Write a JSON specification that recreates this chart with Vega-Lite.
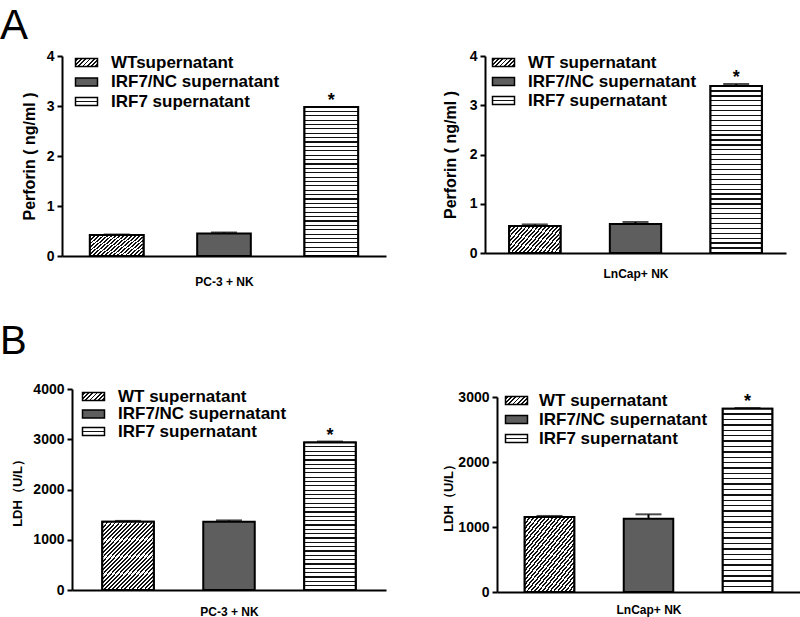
{
"$schema": "https://vega.github.io/schema/vega-lite/v6.json",
"padding": {"left": 0, "top": 5, "right": 0, "bottom": 0},
"background": "white",
"params": [
 {"name": "legWT", "value": {"gradient": "linear", "x1": 0, "y1": 0, "x2": 1.2, "y2": 0.44, "stops": [
    {"offset": 0, "color": "#fff"},
    {"offset": 0.04, "color": "#fff"}, {"offset": 0.04, "color": "#111"}, {"offset": 0.105, "color": "#111"}, {"offset": 0.105, "color": "#fff"},
    {"offset": 0.183, "color": "#fff"}, {"offset": 0.183, "color": "#111"}, {"offset": 0.248, "color": "#111"}, {"offset": 0.248, "color": "#fff"},
    {"offset": 0.326, "color": "#fff"}, {"offset": 0.326, "color": "#111"}, {"offset": 0.391, "color": "#111"}, {"offset": 0.391, "color": "#fff"},
    {"offset": 0.469, "color": "#fff"}, {"offset": 0.469, "color": "#111"}, {"offset": 0.534, "color": "#111"}, {"offset": 0.534, "color": "#fff"},
    {"offset": 0.611, "color": "#fff"}, {"offset": 0.611, "color": "#111"}, {"offset": 0.676, "color": "#111"}, {"offset": 0.676, "color": "#fff"},
    {"offset": 0.754, "color": "#fff"}, {"offset": 0.754, "color": "#111"}, {"offset": 0.819, "color": "#111"}, {"offset": 0.819, "color": "#fff"},
    {"offset": 0.897, "color": "#fff"}, {"offset": 0.897, "color": "#111"}, {"offset": 0.962, "color": "#111"}, {"offset": 0.962, "color": "#fff"},
    {"offset": 1, "color": "#fff"}]}},
 {"name": "legIRF", "value": {"gradient": "linear", "x1": 0, "y1": 0, "x2": 0, "y2": 1, "stops": [
    {"offset": 0, "color": "#fff"}, {"offset": 0.42, "color": "#fff"}, {"offset": 0.42, "color": "#111"}, {"offset": 0.58, "color": "#111"}, {"offset": 0.58, "color": "#fff"}, {"offset": 1, "color": "#fff"}]}},
 {"name": "wtA", "value": {"gradient": "linear", "x1": 0, "y1": 0, "x2": 1.2, "y2": 0.55, "stops": [
    {"offset": 0, "color": "#fff"},
    {"offset": 0.014, "color": "#fff"}, {"offset": 0.014, "color": "#111"}, {"offset": 0.038, "color": "#111"}, {"offset": 0.038, "color": "#fff"},
    {"offset": 0.067, "color": "#fff"}, {"offset": 0.067, "color": "#111"}, {"offset": 0.091, "color": "#111"}, {"offset": 0.091, "color": "#fff"},
    {"offset": 0.119, "color": "#fff"}, {"offset": 0.119, "color": "#111"}, {"offset": 0.143, "color": "#111"}, {"offset": 0.143, "color": "#fff"},
    {"offset": 0.172, "color": "#fff"}, {"offset": 0.172, "color": "#111"}, {"offset": 0.196, "color": "#111"}, {"offset": 0.196, "color": "#fff"},
    {"offset": 0.225, "color": "#fff"}, {"offset": 0.225, "color": "#111"}, {"offset": 0.249, "color": "#111"}, {"offset": 0.249, "color": "#fff"},
    {"offset": 0.277, "color": "#fff"}, {"offset": 0.277, "color": "#111"}, {"offset": 0.301, "color": "#111"}, {"offset": 0.301, "color": "#fff"},
    {"offset": 0.33, "color": "#fff"}, {"offset": 0.33, "color": "#111"}, {"offset": 0.354, "color": "#111"}, {"offset": 0.354, "color": "#fff"},
    {"offset": 0.382, "color": "#fff"}, {"offset": 0.382, "color": "#111"}, {"offset": 0.406, "color": "#111"}, {"offset": 0.406, "color": "#fff"},
    {"offset": 0.435, "color": "#fff"}, {"offset": 0.435, "color": "#111"}, {"offset": 0.459, "color": "#111"}, {"offset": 0.459, "color": "#fff"},
    {"offset": 0.488, "color": "#fff"}, {"offset": 0.488, "color": "#111"}, {"offset": 0.512, "color": "#111"}, {"offset": 0.512, "color": "#fff"},
    {"offset": 0.54, "color": "#fff"}, {"offset": 0.54, "color": "#111"}, {"offset": 0.564, "color": "#111"}, {"offset": 0.564, "color": "#fff"},
    {"offset": 0.593, "color": "#fff"}, {"offset": 0.593, "color": "#111"}, {"offset": 0.617, "color": "#111"}, {"offset": 0.617, "color": "#fff"},
    {"offset": 0.646, "color": "#fff"}, {"offset": 0.646, "color": "#111"}, {"offset": 0.67, "color": "#111"}, {"offset": 0.67, "color": "#fff"},
    {"offset": 0.698, "color": "#fff"}, {"offset": 0.698, "color": "#111"}, {"offset": 0.722, "color": "#111"}, {"offset": 0.722, "color": "#fff"},
    {"offset": 0.751, "color": "#fff"}, {"offset": 0.751, "color": "#111"}, {"offset": 0.775, "color": "#111"}, {"offset": 0.775, "color": "#fff"},
    {"offset": 0.804, "color": "#fff"}, {"offset": 0.804, "color": "#111"}, {"offset": 0.828, "color": "#111"}, {"offset": 0.828, "color": "#fff"},
    {"offset": 0.856, "color": "#fff"}, {"offset": 0.856, "color": "#111"}, {"offset": 0.88, "color": "#111"}, {"offset": 0.88, "color": "#fff"},
    {"offset": 0.909, "color": "#fff"}, {"offset": 0.909, "color": "#111"}, {"offset": 0.933, "color": "#111"}, {"offset": 0.933, "color": "#fff"},
    {"offset": 0.961, "color": "#fff"}, {"offset": 0.961, "color": "#111"}, {"offset": 0.985, "color": "#111"}, {"offset": 0.985, "color": "#fff"},
    {"offset": 1, "color": "#fff"}]}},
 {"name": "wtB", "value": {"gradient": "linear", "x1": 0, "y1": 0, "x2": 0.88, "y2": 1.1, "stops": [
    {"offset": 0, "color": "#fff"},
    {"offset": 0.009, "color": "#fff"}, {"offset": 0.009, "color": "#111"}, {"offset": 0.025, "color": "#111"}, {"offset": 0.025, "color": "#fff"},
    {"offset": 0.043, "color": "#fff"}, {"offset": 0.043, "color": "#111"}, {"offset": 0.059, "color": "#111"}, {"offset": 0.059, "color": "#fff"},
    {"offset": 0.078, "color": "#fff"}, {"offset": 0.078, "color": "#111"}, {"offset": 0.094, "color": "#111"}, {"offset": 0.094, "color": "#fff"},
    {"offset": 0.112, "color": "#fff"}, {"offset": 0.112, "color": "#111"}, {"offset": 0.128, "color": "#111"}, {"offset": 0.128, "color": "#fff"},
    {"offset": 0.147, "color": "#fff"}, {"offset": 0.147, "color": "#111"}, {"offset": 0.163, "color": "#111"}, {"offset": 0.163, "color": "#fff"},
    {"offset": 0.181, "color": "#fff"}, {"offset": 0.181, "color": "#111"}, {"offset": 0.197, "color": "#111"}, {"offset": 0.197, "color": "#fff"},
    {"offset": 0.216, "color": "#fff"}, {"offset": 0.216, "color": "#111"}, {"offset": 0.232, "color": "#111"}, {"offset": 0.232, "color": "#fff"},
    {"offset": 0.25, "color": "#fff"}, {"offset": 0.25, "color": "#111"}, {"offset": 0.266, "color": "#111"}, {"offset": 0.266, "color": "#fff"},
    {"offset": 0.285, "color": "#fff"}, {"offset": 0.285, "color": "#111"}, {"offset": 0.301, "color": "#111"}, {"offset": 0.301, "color": "#fff"},
    {"offset": 0.319, "color": "#fff"}, {"offset": 0.319, "color": "#111"}, {"offset": 0.335, "color": "#111"}, {"offset": 0.335, "color": "#fff"},
    {"offset": 0.354, "color": "#fff"}, {"offset": 0.354, "color": "#111"}, {"offset": 0.37, "color": "#111"}, {"offset": 0.37, "color": "#fff"},
    {"offset": 0.388, "color": "#fff"}, {"offset": 0.388, "color": "#111"}, {"offset": 0.404, "color": "#111"}, {"offset": 0.404, "color": "#fff"},
    {"offset": 0.423, "color": "#fff"}, {"offset": 0.423, "color": "#111"}, {"offset": 0.439, "color": "#111"}, {"offset": 0.439, "color": "#fff"},
    {"offset": 0.457, "color": "#fff"}, {"offset": 0.457, "color": "#111"}, {"offset": 0.473, "color": "#111"}, {"offset": 0.473, "color": "#fff"},
    {"offset": 0.492, "color": "#fff"}, {"offset": 0.492, "color": "#111"}, {"offset": 0.508, "color": "#111"}, {"offset": 0.508, "color": "#fff"},
    {"offset": 0.526, "color": "#fff"}, {"offset": 0.526, "color": "#111"}, {"offset": 0.542, "color": "#111"}, {"offset": 0.542, "color": "#fff"},
    {"offset": 0.561, "color": "#fff"}, {"offset": 0.561, "color": "#111"}, {"offset": 0.577, "color": "#111"}, {"offset": 0.577, "color": "#fff"},
    {"offset": 0.595, "color": "#fff"}, {"offset": 0.595, "color": "#111"}, {"offset": 0.611, "color": "#111"}, {"offset": 0.611, "color": "#fff"},
    {"offset": 0.63, "color": "#fff"}, {"offset": 0.63, "color": "#111"}, {"offset": 0.646, "color": "#111"}, {"offset": 0.646, "color": "#fff"},
    {"offset": 0.664, "color": "#fff"}, {"offset": 0.664, "color": "#111"}, {"offset": 0.68, "color": "#111"}, {"offset": 0.68, "color": "#fff"},
    {"offset": 0.699, "color": "#fff"}, {"offset": 0.699, "color": "#111"}, {"offset": 0.715, "color": "#111"}, {"offset": 0.715, "color": "#fff"},
    {"offset": 0.733, "color": "#fff"}, {"offset": 0.733, "color": "#111"}, {"offset": 0.749, "color": "#111"}, {"offset": 0.749, "color": "#fff"},
    {"offset": 0.768, "color": "#fff"}, {"offset": 0.768, "color": "#111"}, {"offset": 0.784, "color": "#111"}, {"offset": 0.784, "color": "#fff"},
    {"offset": 0.802, "color": "#fff"}, {"offset": 0.802, "color": "#111"}, {"offset": 0.818, "color": "#111"}, {"offset": 0.818, "color": "#fff"},
    {"offset": 0.837, "color": "#fff"}, {"offset": 0.837, "color": "#111"}, {"offset": 0.853, "color": "#111"}, {"offset": 0.853, "color": "#fff"},
    {"offset": 0.871, "color": "#fff"}, {"offset": 0.871, "color": "#111"}, {"offset": 0.887, "color": "#111"}, {"offset": 0.887, "color": "#fff"},
    {"offset": 0.906, "color": "#fff"}, {"offset": 0.906, "color": "#111"}, {"offset": 0.922, "color": "#111"}, {"offset": 0.922, "color": "#fff"},
    {"offset": 0.94, "color": "#fff"}, {"offset": 0.94, "color": "#111"}, {"offset": 0.956, "color": "#111"}, {"offset": 0.956, "color": "#fff"},
    {"offset": 0.975, "color": "#fff"}, {"offset": 0.975, "color": "#111"}, {"offset": 0.991, "color": "#111"}, {"offset": 0.991, "color": "#fff"},
    {"offset": 1, "color": "#fff"}]}},
 {"name": "irf7", "value": {"gradient": "linear", "x1": 0, "y1": 0, "x2": 0, "y2": 1, "stops": [
    {"offset": 0, "color": "#fff"},
    {"offset": 0.025, "color": "#fff"}, {"offset": 0.025, "color": "#111"}, {"offset": 0.033, "color": "#111"}, {"offset": 0.033, "color": "#fff"},
    {"offset": 0.055, "color": "#fff"}, {"offset": 0.055, "color": "#111"}, {"offset": 0.063, "color": "#111"}, {"offset": 0.063, "color": "#fff"},
    {"offset": 0.084, "color": "#fff"}, {"offset": 0.084, "color": "#111"}, {"offset": 0.092, "color": "#111"}, {"offset": 0.092, "color": "#fff"},
    {"offset": 0.114, "color": "#fff"}, {"offset": 0.114, "color": "#111"}, {"offset": 0.122, "color": "#111"}, {"offset": 0.122, "color": "#fff"},
    {"offset": 0.143, "color": "#fff"}, {"offset": 0.143, "color": "#111"}, {"offset": 0.151, "color": "#111"}, {"offset": 0.151, "color": "#fff"},
    {"offset": 0.172, "color": "#fff"}, {"offset": 0.172, "color": "#111"}, {"offset": 0.18, "color": "#111"}, {"offset": 0.18, "color": "#fff"},
    {"offset": 0.202, "color": "#fff"}, {"offset": 0.202, "color": "#111"}, {"offset": 0.21, "color": "#111"}, {"offset": 0.21, "color": "#fff"},
    {"offset": 0.231, "color": "#fff"}, {"offset": 0.231, "color": "#111"}, {"offset": 0.239, "color": "#111"}, {"offset": 0.239, "color": "#fff"},
    {"offset": 0.261, "color": "#fff"}, {"offset": 0.261, "color": "#111"}, {"offset": 0.269, "color": "#111"}, {"offset": 0.269, "color": "#fff"},
    {"offset": 0.29, "color": "#fff"}, {"offset": 0.29, "color": "#111"}, {"offset": 0.298, "color": "#111"}, {"offset": 0.298, "color": "#fff"},
    {"offset": 0.319, "color": "#fff"}, {"offset": 0.319, "color": "#111"}, {"offset": 0.327, "color": "#111"}, {"offset": 0.327, "color": "#fff"},
    {"offset": 0.349, "color": "#fff"}, {"offset": 0.349, "color": "#111"}, {"offset": 0.357, "color": "#111"}, {"offset": 0.357, "color": "#fff"},
    {"offset": 0.378, "color": "#fff"}, {"offset": 0.378, "color": "#111"}, {"offset": 0.386, "color": "#111"}, {"offset": 0.386, "color": "#fff"},
    {"offset": 0.408, "color": "#fff"}, {"offset": 0.408, "color": "#111"}, {"offset": 0.416, "color": "#111"}, {"offset": 0.416, "color": "#fff"},
    {"offset": 0.437, "color": "#fff"}, {"offset": 0.437, "color": "#111"}, {"offset": 0.445, "color": "#111"}, {"offset": 0.445, "color": "#fff"},
    {"offset": 0.467, "color": "#fff"}, {"offset": 0.467, "color": "#111"}, {"offset": 0.475, "color": "#111"}, {"offset": 0.475, "color": "#fff"},
    {"offset": 0.496, "color": "#fff"}, {"offset": 0.496, "color": "#111"}, {"offset": 0.504, "color": "#111"}, {"offset": 0.504, "color": "#fff"},
    {"offset": 0.525, "color": "#fff"}, {"offset": 0.525, "color": "#111"}, {"offset": 0.533, "color": "#111"}, {"offset": 0.533, "color": "#fff"},
    {"offset": 0.555, "color": "#fff"}, {"offset": 0.555, "color": "#111"}, {"offset": 0.563, "color": "#111"}, {"offset": 0.563, "color": "#fff"},
    {"offset": 0.584, "color": "#fff"}, {"offset": 0.584, "color": "#111"}, {"offset": 0.592, "color": "#111"}, {"offset": 0.592, "color": "#fff"},
    {"offset": 0.614, "color": "#fff"}, {"offset": 0.614, "color": "#111"}, {"offset": 0.622, "color": "#111"}, {"offset": 0.622, "color": "#fff"},
    {"offset": 0.643, "color": "#fff"}, {"offset": 0.643, "color": "#111"}, {"offset": 0.651, "color": "#111"}, {"offset": 0.651, "color": "#fff"},
    {"offset": 0.672, "color": "#fff"}, {"offset": 0.672, "color": "#111"}, {"offset": 0.68, "color": "#111"}, {"offset": 0.68, "color": "#fff"},
    {"offset": 0.702, "color": "#fff"}, {"offset": 0.702, "color": "#111"}, {"offset": 0.71, "color": "#111"}, {"offset": 0.71, "color": "#fff"},
    {"offset": 0.731, "color": "#fff"}, {"offset": 0.731, "color": "#111"}, {"offset": 0.739, "color": "#111"}, {"offset": 0.739, "color": "#fff"},
    {"offset": 0.761, "color": "#fff"}, {"offset": 0.761, "color": "#111"}, {"offset": 0.769, "color": "#111"}, {"offset": 0.769, "color": "#fff"},
    {"offset": 0.79, "color": "#fff"}, {"offset": 0.79, "color": "#111"}, {"offset": 0.798, "color": "#111"}, {"offset": 0.798, "color": "#fff"},
    {"offset": 0.82, "color": "#fff"}, {"offset": 0.82, "color": "#111"}, {"offset": 0.828, "color": "#111"}, {"offset": 0.828, "color": "#fff"},
    {"offset": 0.849, "color": "#fff"}, {"offset": 0.849, "color": "#111"}, {"offset": 0.857, "color": "#111"}, {"offset": 0.857, "color": "#fff"},
    {"offset": 0.878, "color": "#fff"}, {"offset": 0.878, "color": "#111"}, {"offset": 0.886, "color": "#111"}, {"offset": 0.886, "color": "#fff"},
    {"offset": 0.908, "color": "#fff"}, {"offset": 0.908, "color": "#111"}, {"offset": 0.916, "color": "#111"}, {"offset": 0.916, "color": "#fff"},
    {"offset": 0.937, "color": "#fff"}, {"offset": 0.937, "color": "#111"}, {"offset": 0.945, "color": "#111"}, {"offset": 0.945, "color": "#fff"},
    {"offset": 0.967, "color": "#fff"}, {"offset": 0.967, "color": "#111"}, {"offset": 0.975, "color": "#111"}, {"offset": 0.975, "color": "#fff"},
    {"offset": 1, "color": "#fff"}]}}
],
"spacing": 35,
"resolve": {"scale": {"x": "independent", "y": "independent", "fill": "independent"}, "legend": {"fill": "independent"}},
"vconcat": [
{
 "spacing": 46,
 "resolve": {"scale": {"x": "independent", "y": "independent", "fill": "independent"}, "legend": {"fill": "independent"}},
 "hconcat": [
 {
  "width": 314, "height": 200,
  "title": {"text": "A", "fontSize": 42, "dx": -72, "offset": 1},
  "data": {"values": [
   {"group": "WTsupernatant", "kind": "WT", "value": 0.42, "upper": 0.43, "sig": ""},
   {"group": "IRF7/NC supernatant", "kind": "NC", "value": 0.45, "upper": 0.47, "sig": ""},
   {"group": "IRF7 supernatant", "kind": "IRF7", "value": 2.98, "upper": 2.98, "sig": "*"}
  ]},
  "encoding": {
   "x": {"field": "kind", "type": "nominal", "scale": {"domain": ["WT", "NC", "IRF7"], "range": [-10, 314], "paddingInner": 0.5, "paddingOuter": 0.26}, "axis": {"title": "PC-3 + NK", "titlePadding": 20}},
   "y": {"field": "value", "type": "quantitative", "scale": {"domain": [0, 4], "nice": false}, "axis": {"offset": 10, "values": [0, 1, 2, 3, 4], "title": "Perforin ( ng/ml )", "titleFontSize": 16, "titlePadding": 9}}
  },
  "layer": [
   {"mark": {"type": "bar", "stroke": "black", "strokeWidth": 2}, "encoding": {"fill": {"field": "group", "type": "nominal", "sort": null, "scale": {"range": [{"expr": "legWT"}, "#5e5e5e", {"expr": "legIRF"}]}, "legend": {"legendX": 6, "legendY": -2, "rowPadding": 1.5}}}},
   {"transform": [{"filter": "datum.kind === 'WT'"}], "mark": {"type": "bar", "stroke": "black", "strokeWidth": 2, "fill": {"expr": "wtA"}}},
   {"transform": [{"filter": "datum.kind === 'IRF7'"}], "mark": {"type": "bar", "stroke": "black", "strokeWidth": 2, "fill": {"expr": "irf7"}}},
   {"mark": {"type": "rule", "color": "black", "strokeWidth": 2}, "encoding": {"y2": {"field": "upper"}}},
   {"mark": {"type": "tick", "color": "black", "size": 26, "thickness": 2}, "encoding": {"y": {"field": "upper", "type": "quantitative"}}},
   {"mark": {"type": "text", "fontSize": 18, "fontWeight": "bold", "baseline": "alphabetic", "dy": -1, "color": "black"}, "encoding": {"y": {"field": "upper", "type": "quantitative"}, "text": {"field": "sig"}}}
  ]
 },
 {
  "width": 301, "height": 197,
  "data": {"values": [
   {"group": "WT supernatant", "kind": "WT", "value": 0.55, "upper": 0.58, "sig": ""},
   {"group": "IRF7/NC supernatant", "kind": "NC", "value": 0.59, "upper": 0.63, "sig": ""},
   {"group": "IRF7 supernatant", "kind": "IRF7", "value": 3.39, "upper": 3.43, "sig": "*"}
  ]},
  "encoding": {
   "x": {"field": "kind", "type": "nominal", "scale": {"domain": ["WT", "NC", "IRF7"], "paddingInner": 0.49, "paddingOuter": 0.24}, "axis": {"title": "LnCap+ NK", "titlePadding": 15}},
   "y": {"field": "value", "type": "quantitative", "scale": {"domain": [0, 4], "nice": false}, "axis": {"values": [0, 1, 2, 3, 4], "title": "Perforin ( ng/ml )", "titleFontSize": 16, "titlePadding": 11}}
  },
  "layer": [
   {"mark": {"type": "bar", "stroke": "black", "strokeWidth": 2}, "encoding": {"fill": {"field": "group", "type": "nominal", "sort": null, "scale": {"range": [{"expr": "legWT"}, "#5e5e5e", {"expr": "legIRF"}]}, "legend": {"legendX": 10, "legendY": -2, "rowPadding": 1}}}},
   {"transform": [{"filter": "datum.kind === 'WT'"}], "mark": {"type": "bar", "stroke": "black", "strokeWidth": 2, "fill": {"expr": "wtA"}}},
   {"transform": [{"filter": "datum.kind === 'IRF7'"}], "mark": {"type": "bar", "stroke": "black", "strokeWidth": 2, "fill": {"expr": "irf7"}}},
   {"mark": {"type": "rule", "color": "black", "strokeWidth": 2}, "encoding": {"y2": {"field": "upper"}}},
   {"mark": {"type": "tick", "color": "black", "size": 26, "thickness": 2}, "encoding": {"y": {"field": "upper", "type": "quantitative"}}},
   {"mark": {"type": "text", "fontSize": 18, "fontWeight": "bold", "baseline": "alphabetic", "dy": -1, "color": "black"}, "encoding": {"y": {"field": "upper", "type": "quantitative"}, "text": {"field": "sig"}}}
  ]
 }
 ]
},
{
 "spacing": 56,
 "resolve": {"scale": {"x": "independent", "y": "independent", "fill": "independent"}, "legend": {"fill": "independent"}},
 "hconcat": [
 {
  "width": 314, "height": 201,
  "title": {"text": "B", "fontSize": 40, "dx": -72, "offset": 20},
  "data": {"values": [
   {"group": "WT supernatant", "kind": "WT", "value": 1360, "upper": 1375, "sig": ""},
   {"group": "IRF7/NC supernatant", "kind": "NC", "value": 1360, "upper": 1385, "sig": ""},
   {"group": "IRF7 supernatant", "kind": "IRF7", "value": 2935, "upper": 2955, "sig": "*"}
  ]},
  "encoding": {
   "x": {"field": "kind", "type": "nominal", "scale": {"domain": ["WT", "NC", "IRF7"], "paddingInner": 0.49, "paddingOuter": 0.3}, "axis": {"title": "PC-3 + NK", "titlePadding": 16}},
   "y": {"field": "value", "type": "quantitative", "scale": {"domain": [0, 4000], "nice": false}, "axis": {"values": [0, 1000, 2000, 3000, 4000], "format": "d", "title": "LDH（U/L）", "titleFontSize": 13, "titlePadding": 8}}
  },
  "layer": [
   {"mark": {"type": "bar", "stroke": "black", "strokeWidth": 2}, "encoding": {"fill": {"field": "group", "type": "nominal", "sort": null, "scale": {"range": [{"expr": "legWT"}, "#5e5e5e", {"expr": "legIRF"}]}, "legend": {"legendX": 13, "legendY": -1, "rowPadding": -0.5}}}},
   {"transform": [{"filter": "datum.kind === 'WT'"}], "mark": {"type": "bar", "stroke": "black", "strokeWidth": 2, "fill": {"expr": "wtB"}}},
   {"transform": [{"filter": "datum.kind === 'IRF7'"}], "mark": {"type": "bar", "stroke": "black", "strokeWidth": 2, "fill": {"expr": "irf7"}}},
   {"mark": {"type": "rule", "color": "black", "strokeWidth": 2}, "encoding": {"y2": {"field": "upper"}}},
   {"mark": {"type": "tick", "color": "black", "size": 26, "thickness": 2}, "encoding": {"y": {"field": "upper", "type": "quantitative"}}},
   {"mark": {"type": "text", "fontSize": 18, "fontWeight": "bold", "baseline": "alphabetic", "dy": -1, "color": "black"}, "encoding": {"y": {"field": "upper", "type": "quantitative"}, "text": {"field": "sig"}}}
  ]
 },
 {
  "width": 303, "height": 203,
  "data": {"values": [
   {"group": "WT supernatant", "kind": "WT", "value": 1154, "upper": 1170, "sig": ""},
   {"group": "IRF7/NC supernatant", "kind": "NC", "value": 1128, "upper": 1195, "sig": ""},
   {"group": "IRF7 supernatant", "kind": "IRF7", "value": 2820, "upper": 2830, "sig": "*"}
  ]},
  "encoding": {
   "x": {"field": "kind", "type": "nominal", "scale": {"domain": ["WT", "NC", "IRF7"], "paddingInner": 0.5, "paddingOuter": 0.28}, "axis": {"title": "LnCap+ NK", "titlePadding": 12}},
   "y": {"field": "value", "type": "quantitative", "scale": {"domain": [0, 3000], "nice": false, "range": [203, 8]}, "axis": {"values": [0, 1000, 2000, 3000], "format": "d", "title": "LDH（U/L）", "titleFontSize": 13, "titlePadding": 2}}
  },
  "layer": [
   {"mark": {"type": "bar", "stroke": "black", "strokeWidth": 2}, "encoding": {"fill": {"field": "group", "type": "nominal", "sort": null, "scale": {"range": [{"expr": "legWT"}, "#5e5e5e", {"expr": "legIRF"}]}, "legend": {"legendX": 11, "legendY": 3, "rowPadding": 1, "labelOffset": 14}}}},
   {"transform": [{"filter": "datum.kind === 'WT'"}], "mark": {"type": "bar", "stroke": "black", "strokeWidth": 2, "fill": {"expr": "wtB"}}},
   {"transform": [{"filter": "datum.kind === 'IRF7'"}], "mark": {"type": "bar", "stroke": "black", "strokeWidth": 2, "fill": {"expr": "irf7"}}},
   {"mark": {"type": "rule", "color": "black", "strokeWidth": 2}, "encoding": {"y2": {"field": "upper"}}},
   {"mark": {"type": "tick", "color": "black", "size": 26, "thickness": 2}, "encoding": {"y": {"field": "upper", "type": "quantitative"}}},
   {"mark": {"type": "text", "fontSize": 18, "fontWeight": "bold", "baseline": "alphabetic", "dy": -1, "color": "black"}, "encoding": {"y": {"field": "upper", "type": "quantitative"}, "text": {"field": "sig"}}}
  ]
 }
 ]
}
],
"config": {
 "font": "Liberation Sans",
 "view": {"stroke": null},
 "axis": {"domainColor": "black", "domainWidth": 2, "tickColor": "black", "tickWidth": 2, "tickSize": 5, "labelColor": "black", "labelFontSize": 14, "labelFontWeight": "bold", "labelPadding": 3, "titleColor": "black", "titleFontWeight": "bold", "grid": false},
 "axisX": {"labels": false, "ticks": false, "titleFontSize": 12},
 "legend": {"orient": "none", "title": null, "labelFontSize": 17, "labelFontWeight": "bold", "labelColor": "black", "labelOffset": 16, "symbolType": "M-1.5,-0.55H1.5V0.55H-1.5Z", "symbolSize": 215, "symbolStrokeColor": "black", "symbolStrokeWidth": 1.5, "labelLimit": 400, "padding": 0},
 "title": {"fontWeight": "normal", "color": "black", "anchor": "start", "frame": "group"}
}
}
